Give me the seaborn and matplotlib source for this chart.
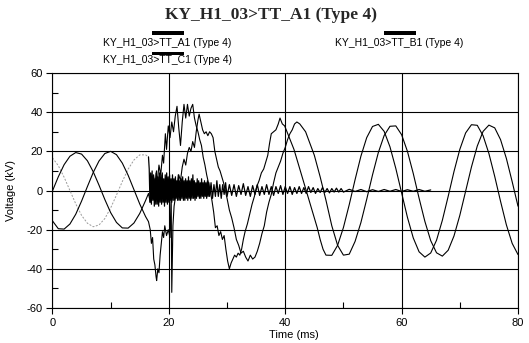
import matplotlib
matplotlib.use("Agg")
import matplotlib.pyplot as plt
import seaborn as sns
from matplotlib.patches import Rectangle
from matplotlib.ticker import MultipleLocator

# ---------------- data ----------------
title = "KY_H1_03>TT_A1 (Type 4)"
series_labels = ["KY_H1_03>TT_A1 (Type 4)", "KY_H1_03>TT_B1 (Type 4)", "KY_H1_03>TT_C1 (Type 4)"]
x_label = "Time (ms)"
y_label = "Voltage (kV)"
x_ticks = [0, 20, 40, 60, 80]
x_tick_labels = ["0", "20", "40", "60", "80"]
y_ticks = [-60, -40, -20, 0, 20, 40, 60]
y_tick_labels = ["-60", "-40", "-20", "0", "20", "40", "60"]

# pre-fault (ms)
pre_t = [0, 1, 2, 3, 4, 5, 6, 7, 8, 9, 10, 11, 12, 13, 14, 15, 16, 16.5]
a_pre_v = [-0.2, 7.0, 13.2, 17.5, 19.4, 18.6, 15.2, 9.6, 2.7, -4.6, -11.3, -16.3, -19.1, -19.2, -16.6, -11.7, -5.1, -1.5]
b_pre_v = [-15.5, -19.5, -19.7, -17.1, -12.1, -5.4, 2.0, 9.2, 15.1, 18.9, 20.0, 18.3, 14.0, 7.8, 0.5, -6.9, -13.3, -15.9]
c_pre_v = [16.7, 12.7, 6.8, 0.0, -6.8, -12.7, -16.7, -18.5, -17.6, -14.3, -8.9, -2.3, 4.6, 10.9, 15.6, 18.2, 18.2, 17.2]

# phase A after the fault
a_fault_t = [16.8, 17.0, 17.2, 17.4, 17.6, 17.8, 18.0, 18.3, 18.6, 18.9, 19.1, 19.4, 19.6, 19.9,
             20.2, 20.5, 20.8, 21.1, 21.4, 21.7, 22.0, 22.3, 22.6, 22.9, 23.2, 23.5, 23.8, 24.1, 24.4,
             24.7, 25.0, 25.3, 25.6, 25.9, 26.2, 26.5, 26.8, 27.1, 27.4, 27.7, 28.0, 28.3, 28.6, 28.9,
             29.2, 29.5, 29.8, 30.1, 30.4,
             30.7, 31.0, 31.3, 31.6, 31.9, 32.2, 32.5, 32.8, 33.1,
             33.5, 33.9, 34.3, 34.7, 35.1, 35.5, 35.9, 36.3, 36.7, 37.0, 37.3, 37.6, 38.0, 38.4, 38.8,
             39.1, 39.5, 39.9, 40.3, 40.7, 41.1, 41.5,
             42.0, 42.5, 43.0, 43.5, 44.0, 44.5, 45.0, 45.5, 46.0, 46.5, 47.0]
a_fault_v = [-6, 3, -4, 7, 1, 9, 4, 13, 8, 18, 14, 29, 21, 33,
             27, 35, 30, 38, 43, 32, 23, 35, 44, 37, 44, 38, 42, 44, 37,
             33, 30, 26, 23, 17, 13, 8, 4, 0, -5, -11, -19, -18, -23, -21,
             -25, -23, -30, -36, -40,
             -37, -35, -33, -34, -32, -33, -30, -25, -21,
             -17, -12, -7, -3, 2, 5, 9, 11, 15, 18, 24, 29, 30, 31, 34,
             37, 34, 33, 30, 27, 24, 21,
             16, 11, 6, 1, -4, -9, -14, -19, -25, -30, -33]
a_post_t = [48, 49, 50, 51, 52, 53, 54, 55, 56, 57, 58, 59, 60, 61, 62, 63, 64, 65, 66, 67, 68,
            69, 70, 71, 72, 73, 74, 75, 76, 77, 78, 79, 80]
a_post_v = [-33.1, -28.0, -18.9, -7.2, 5.5, 17.5, 27.0, 32.7, 33.8, 30.2, 22.3, 11.3, -1.3, -13.7,
            -24.2, -31.3, -34.0, -31.9, -25.4, -15.2, -3.0, 9.7, 21.0, 29.4, 33.6, 33.3, 28.0, 18.9,
            7.2, -5.5, -17.5, -27.0, -32.7]

# phase B after the fault
b_fault_t = [16.8, 17.0, 17.2, 17.4, 17.6, 17.8, 17.9, 18.1, 18.3, 18.5, 18.7, 18.9, 19.1, 19.3,
             19.6, 19.9, 20.2, 20.4, 20.5, 20.7, 20.9, 21.1,
             21.4, 21.7, 22.0, 22.3, 22.6, 22.9, 23.2, 23.5, 23.8, 24.1, 24.4, 24.7, 25.0, 25.2,
             25.5, 25.8, 26.1, 26.4, 26.7, 27.0, 27.3, 27.6, 27.9, 28.2, 28.5, 28.8, 29.1, 29.4, 29.7, 30.0,
             30.4, 30.8, 31.2, 31.6, 32.0, 32.4, 32.8, 33.2, 33.6, 34.0, 34.4, 34.8, 35.2, 35.6, 36.0,
             36.4, 36.8, 37.2, 37.6, 38.0, 38.4, 38.8, 39.2, 39.6, 40.0, 40.4, 40.8, 41.2, 41.6, 42.0,
             42.5, 43.0, 43.5]
b_fault_v = [-20, -27, -24, -35, -38, -44, -46, -40, -42, -33, -27, -21, -24, -18,
             -23, -20, -24, -2, -52, -18, -8, -4,
             2, 8, 5, 12, 16, 13, 19, 22, 20, 25, 22, 30, 36, 39,
             35, 31, 29, 30, 28, 30, 29, 27, 20, 16, 12, 10, 7, 4, 0, -4,
             -10, -14, -19, -25, -28, -32, -31, -34, -36, -33, -35, -34, -31, -27, -22,
             -18, -11, -6, -2, 4, 9, 12, 15, 19, 22, 26, 29, 31, 34, 35,
             34, 32, 30]
b_post_t = [44, 45, 46, 47, 48, 49, 50, 51, 52, 53, 54, 55, 56, 57, 58, 59, 60, 61, 62, 63, 64,
            65, 66, 67, 68, 69, 70, 71, 72, 73, 74, 75, 76, 77, 78, 79, 80]
b_post_v = [26, 18, 7, -5, -18, -28, -33, -32.5, -26.0, -16.4, -4.5, 8.0, 19.4, 28.1, 32.8, 33.0,
            28.5, 20.0, 8.7, -3.9, -15.8, -25.6, -31.8, -33.5, -30.5, -23.2, -12.7, -0.3, 12.0, 22.7,
            30.2, 33.4, 32.0, 26.0, 16.4, 4.5, -8.0]

# phase C after the fault (dense noise collapsing to ~0)
c_n0_t = [16.5, 16.625, 16.75, 16.875, 17.0, 17.125, 17.25, 17.375, 17.5,
          17.625, 17.75, 17.875, 18.0, 18.125, 18.25, 18.375, 18.5,
          18.625, 18.75, 18.875, 19.0, 19.125, 19.25, 19.375, 19.5,
          19.625, 19.75, 19.875, 20.0, 20.125, 20.25, 20.375, 20.5,
          20.625, 20.75, 20.875, 21.0, 21.125, 21.25, 21.375, 21.5,
          21.625, 21.75, 21.875, 22.0, 22.125, 22.25, 22.375, 22.5,
          22.625, 22.75, 22.875, 23.0, 23.125, 23.25, 23.375, 23.5,
          23.625, 23.75, 23.875, 24.0, 24.125, 24.25, 24.375, 24.5,
          24.625, 24.75, 24.875, 25.0, 25.125, 25.25, 25.375, 25.5,
          25.625, 25.75, 25.875, 26.0, 26.125, 26.25, 26.375, 26.5,
          26.625, 26.75, 26.875, 27.0]
c_n0_v = [17.2, 11, -6, 9, -7, 10, -5, 8, -8,
          6, -7, 10, -7, 7, -8, 9, -6,
          8, -7, 9, -6, 6, -8, 8, -6,
          9, -7, 7, -6, 8, -5, 6, -6,
          8, -5, 6, -5, 7, -4, 5, -5,
          8, -5, 5, -5, 6, -4, 7, -5,
          5, -5, 6, -4, 5, -5, 7, -4,
          5, -5, 6, -4, 8, -4, 5, -5,
          4, -4, 6, -3, 5, -4, 4, -4,
          6, -3, 4, -4, 5, -3, 4, -4,
          5, -3, 4, -3]
c_n1_t = [27.25, 27.5, 27.75, 28.0, 28.25, 28.5, 28.75, 29.0, 29.25, 29.5, 29.75, 30.0]
c_n1_v = [4, -4, 3, -3, 5, -3, 3, -4, 3, -2, 4, -3]
c_n2_t = [30.4, 30.8, 31.2, 31.6, 32.0, 32.4, 32.8, 33.2, 33.6, 34.0, 34.4, 34.8, 35.2, 35.6, 36.0,
          36.4, 36.8, 37.2, 37.6, 38.0, 38.4, 38.8, 39.2, 39.6, 40.0, 40.4, 40.8, 41.2, 41.6, 42.0,
          42.4, 42.8, 43.2, 43.6, 44.0, 44.4, 44.8, 45.2, 45.6, 46.0, 46.4, 46.8, 47.2, 47.6, 48.0,
          48.4, 48.8, 49.2, 49.6, 50.0]
c_n2_v = [3, -2.5, 3, -3, 2.5, -2, 3.5, -2.5, 2, -3, 2.5, -2, 3, -2.5, 2,
          -2, 3, -2, 2, -2.5, 2, -1.5, 2.5, -2, 2, -1.5, 2, -2, 1.5, -1.5,
          2, -1.5, 1.5, -1.5, 2, -1, 1.5, -1.5, 1, -1, 1.5, -1, 1, -1.2, 1,
          -0.8, 1.2, -0.8, 1, -0.8]
c_tail_t = [51, 52, 53, 54, 55, 56, 57, 58, 59, 60, 61, 62, 63, 64, 65]
c_tail_v = [0.6, -0.5, 0.5, -0.6, 0.4, -0.5, 0.5, -0.4, 0.5, -0.5, 0.4, -0.4, 0.5, -0.4, 0.3]

a_t = pre_t + a_fault_t + a_post_t
a_v = a_pre_v + a_fault_v + a_post_v
b_t = pre_t + b_fault_t + b_post_t
b_v = b_pre_v + b_fault_v + b_post_v
c_post_t = c_n0_t + c_n1_t + c_n2_t + c_tail_t
c_post_v = c_n0_v + c_n1_v + c_n2_v + c_tail_v

# ---------------- drawing ----------------
sns.set_theme(style="ticks")
plt.rcParams['font.family'] = ['Liberation Sans', 'DejaVu Sans']
plt.rcParams['axes.unicode_minus'] = False

fig = plt.figure(figsize=(5.29, 3.43), dpi=100)
fig.patch.set_facecolor("white")
ax = fig.add_axes([0.0992, 0.1020, 0.8800, 0.6851])
ax.set_facecolor("white")

sns.lineplot(x=pre_t, y=c_pre_v, ax=ax, color="#9a9a9a", lw=0.7,
             linestyle=(0, (2.0, 1.6)), sort=False, estimator=None)
sns.lineplot(x=c_post_t, y=c_post_v, ax=ax, color="black", lw=0.9, sort=False, estimator=None)
sns.lineplot(x=a_t, y=a_v, ax=ax, color="black", lw=0.8, sort=False, estimator=None)
sns.lineplot(x=b_t, y=b_v, ax=ax, color="black", lw=0.8, sort=False, estimator=None)

ax.set_xlim(0, 80)
ax.set_ylim(-60, 60)
ax.set_xticks(x_ticks)
ax.set_xticklabels(x_tick_labels)
ax.set_yticks(y_ticks)
ax.set_yticklabels(y_tick_labels)
ax.xaxis.set_minor_locator(MultipleLocator(10))
ax.yaxis.set_minor_locator(MultipleLocator(10))
ax.grid(True, which="major", color="black", lw=0.8)
ax.set_axisbelow(True)
ax.tick_params(which="major", direction="out", length=4, width=0.8, color="black",
               labelsize=8, labelcolor="black", pad=3)
ax.tick_params(which="minor", direction="in", length=4, width=0.8, color="black")
for s in ax.spines.values():
    s.set_visible(True)
    s.set_color("black")
    s.set_linewidth(0.8)

ax.set_xlabel(x_label, fontsize=8, color="black")
ax.set_ylabel(y_label, fontsize=8, color="black")
ax.xaxis.set_label_coords(0.519, -0.095)
ax.yaxis.set_label_coords(-0.078, 0.5)

# title and legend-like labels above the plot
fig.text(0.512, 0.956, title, ha="center", va="center", fontsize=12.5,
         fontweight="bold", family=["Liberation Serif", "DejaVu Serif"])
legend_pos = [(167.5, 33, 43), (399.5, 33, 43), (167.5, 53.5, 60)]
W, H = 529.0, 343.0
for lab, (cx, by, ty) in zip(series_labels, legend_pos):
    fig.add_artist(Rectangle(((cx - 16) / W, 1 - (by + 1.6) / H), 32 / W, 3.2 / H,
                             facecolor="black", edgecolor="none", transform=fig.transFigure))
    fig.text(cx / W, 1 - ty / H, lab, ha="center", va="center", fontsize=7.5, color="black")

fig.savefig("out.png", dpi=100, facecolor="white")
